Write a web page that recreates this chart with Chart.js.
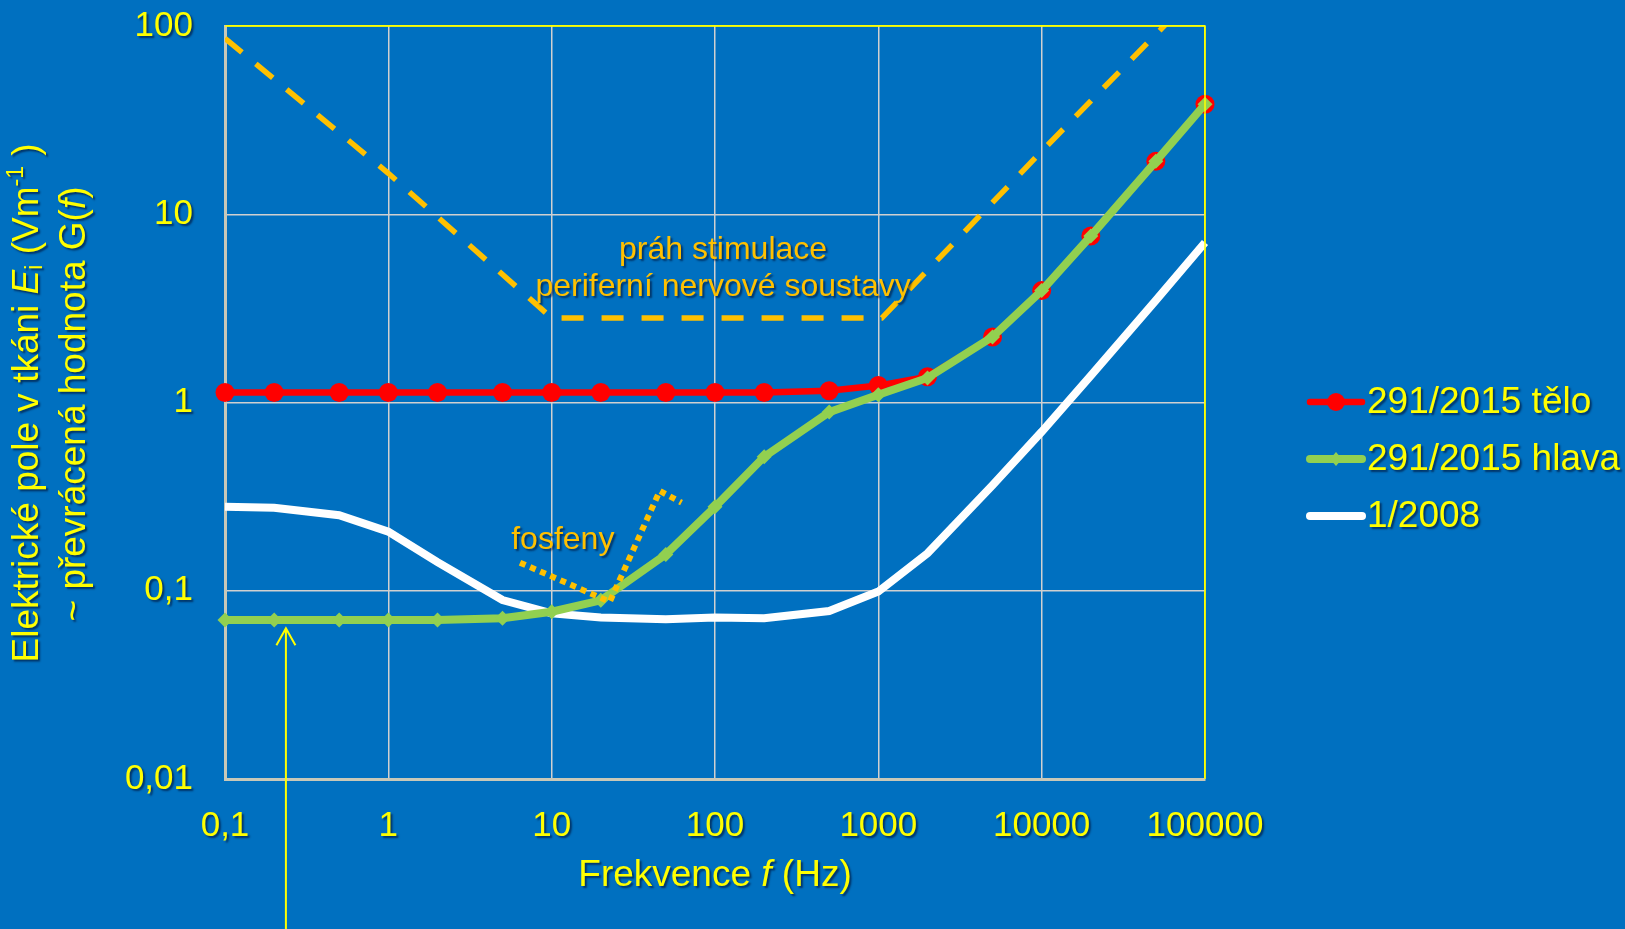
<!DOCTYPE html>
<html>
<head>
<meta charset="utf-8">
<script src="https://cdn.jsdelivr.net/npm/chart.js@4.4.1/dist/chart.umd.min.js"></script>
<style>
  html, body { margin: 0; padding: 0; background: #0070C0; }
  #wrap { width: 1625px; height: 929px; position: relative; }
</style>
</head>
<body>
<div id="wrap"><canvas id="chart"></canvas></div>
<script>
// frequencies (Hz) shared by the three limit curves
const freqs = [0.1, 0.2, 0.5, 1, 2, 5, 10, 20, 50, 100, 200, 500, 1000, 2000, 5000, 10000, 20000, 50000, 100000]
const teloValues = [1.13, 1.13, 1.13, 1.13, 1.13, 1.13, 1.13, 1.13, 1.13, 1.13, 1.13, 1.155, 1.23, 1.37, 2.23, 3.93, 7.66, 19.1, 38.4]
const hlavaValues = [0.07, 0.07, 0.07, 0.07, 0.07, 0.0714, 0.0774, 0.089, 0.156, 0.279, 0.515, 0.889, 1.1, 1.35, 2.23, 3.93, 7.66, 19.1, 38.4]
const old2008Values = [0.279, 0.276, 0.252, 0.206, 0.142, 0.0893, 0.0758, 0.0722, 0.0705, 0.0721, 0.0714, 0.078, 0.099, 0.158, 0.363, 0.699, 1.39, 3.49, 7.08]

// prah stimulace periferni nervove soustavy (dashed)
const stimFreqs = [0.1, 1, 10, 1050, 10000, 100000]
const stimValues = [86, 16.5, 2.81, 2.81, 21.6, 167]

// fosfeny (dotted)
const fosFreqs = [6.4, 22.7, 45.9, 62.4]
const fosValues = [0.141, 0.0874, 0.339, 0.294]

const seriesNames = ['291/2015 tělo', '291/2015 hlava', '1/2008']

const xTicks = [0.1, 1, 10, 100, 1000, 10000, 100000]
const xTickLabels = ['0,1', '1', '10', '100', '1000', '10000', '100000']
const yTicks = [0.01, 0.1, 1, 10, 100]
const yTickLabels = ['0,01', '0,1', '1', '10', '100']

const FONT = "'Liberation Sans', Arial, sans-serif"
const YELLOW = '#FFFF00'
const ORANGE = '#FFC000'
const RED = '#FF0000'
const GREEN = '#92D050'

const pts = (xs, ys) => xs.map((x, i) => ({ x: x, y: ys[i] }))

function shadow(ctx) {
  ctx.shadowColor = 'rgba(0, 0, 30, 0.55)'
  ctx.shadowOffsetX = 2
  ctx.shadowOffsetY = 2
  ctx.shadowBlur = 2
}

// draws a line of mixed normal / italic / sub / sup text centred on (x, y)
function richText(ctx, segs, x, y, size, color) {
  const fontOf = s => (s.italic ? 'italic ' : '') + Math.round(size * (s.small ? 0.62 : 1)) + 'px ' + FONT
  let total = 0
  segs.forEach(s => { ctx.font = fontOf(s); s.w = ctx.measureText(s.t).width; total += s.w })
  let cx = x - total / 2
  ctx.fillStyle = color
  ctx.textAlign = 'left'
  ctx.textBaseline = 'middle'
  segs.forEach(s => {
    ctx.font = fontOf(s)
    ctx.fillText(s.t, cx, y + (s.dy || 0) * size)
    cx += s.w
  })
}

const decor = {
  id: 'decor',
  beforeDraw(chart) {
    Object.values(chart.scales).forEach(s => {
      if (s._shadowed) return
      const orig = s.drawLabels.bind(s)
      s.drawLabels = function (area) {
        const c = this.ctx
        c.save(); shadow(c); orig(area); c.restore()
      }
      s._shadowed = true
    })
  },
  afterDraw(chart) {
    const ctx = chart.ctx
    const xs = chart.scales.x, ys = chart.scales.y
    const area = chart.chartArea

    // yellow frame on top and right
    ctx.save()
    ctx.strokeStyle = YELLOW
    ctx.lineWidth = 1.5
    ctx.beginPath()
    ctx.moveTo(area.left, area.top)
    ctx.lineTo(area.right, area.top)
    ctx.lineTo(area.right, area.bottom)
    ctx.stroke()
    ctx.restore()

    ctx.save()
    shadow(ctx)

    // axis titles
    richText(ctx, [{ t: 'Frekvence ' }, { t: 'f', italic: true }, { t: ' (Hz)' }], 715, 876, 37, YELLOW)

    ctx.save()
    ctx.translate(28, 403)
    ctx.rotate(-Math.PI / 2)
    richText(ctx, [
      { t: 'Elektrické pole v tkáni ' }, { t: 'E', italic: true }, { t: 'i', small: true, dy: 0.22 },
      { t: ' (Vm' }, { t: '-1', small: true, dy: -0.32 }, { t: ' )' }
    ], 0, 0, 37, YELLOW)
    ctx.restore()

    ctx.save()
    ctx.translate(75, 404)
    ctx.rotate(-Math.PI / 2)
    richText(ctx, [{ t: '~ převrácená hodnota G(' }, { t: 'f', italic: true }, { t: ')' }], 0, 0, 37, YELLOW)
    ctx.restore()

    // curve annotations
    richText(ctx, [{ t: 'práh stimulace' }], xs.getPixelForValue(112), ys.getPixelForValue(6.48), 32, ORANGE)
    richText(ctx, [{ t: 'periferní nervové soustavy' }], xs.getPixelForValue(112), ys.getPixelForValue(4.1), 32, ORANGE)
    richText(ctx, [{ t: 'fosfeny' }], xs.getPixelForValue(11.7), ys.getPixelForValue(0.186), 32, ORANGE)

    // legend
    const lx = 1307, ly = 402, gap = 57, lw = 58
    chart.data.datasets.slice(0, 3).forEach((ds, i) => {
      const y = ly + i * gap
      ctx.save()
      ctx.shadowColor = 'transparent'
      ctx.strokeStyle = ds.borderColor
      ctx.lineWidth = ds.borderWidth
      ctx.lineCap = 'round'
      ctx.beginPath()
      ctx.moveTo(lx + 3, y)
      ctx.lineTo(lx + lw - 3, y)
      ctx.stroke()
      ctx.fillStyle = ds.borderColor
      const mx = lx + lw / 2
      if (ds.pointStyle === 'circle') {
        ctx.beginPath(); ctx.arc(mx, y, 9, 0, Math.PI * 2); ctx.fill()
      } else if (ds.pointStyle === 'rectRot') {
        ctx.beginPath(); ctx.moveTo(mx, y - 7); ctx.lineTo(mx + 6, y); ctx.lineTo(mx, y + 7); ctx.lineTo(mx - 6, y); ctx.closePath(); ctx.fill()
      }
      ctx.restore()
      ctx.font = '37px ' + FONT
      ctx.fillStyle = YELLOW
      ctx.textAlign = 'left'
      ctx.textBaseline = 'middle'
      ctx.fillText(ds.label, lx + lw + 2, y + 1)
    })
    ctx.restore()

    // arrow pointing at the 291/2015 hlava curve
    const ax = xs.getPixelForValue(0.236), ay = ys.getPixelForValue(0.0632)
    ctx.save()
    ctx.strokeStyle = YELLOW
    ctx.lineWidth = 2
    ctx.beginPath()
    ctx.moveTo(ax, chart.height)
    ctx.lineTo(ax, ay)
    ctx.moveTo(ax - 9.5, ay + 17)
    ctx.lineTo(ax, ay)
    ctx.lineTo(ax + 9.5, ay + 17)
    ctx.stroke()
    ctx.restore()
  }
}

const gridColor = (top) => ctx => (ctx.tick && ctx.tick.value === top ? YELLOW : '#D0D0D0')

new Chart(document.getElementById('chart'), {
  type: 'line',
  data: {
    datasets: [
      {
        label: seriesNames[0], data: pts(freqs, teloValues),
        borderColor: RED, backgroundColor: RED, borderWidth: 6.5,
        pointStyle: 'circle', pointRadius: 9.5, pointBorderWidth: 0, pointBackgroundColor: RED,
        clip: false, order: 5
      },
      {
        label: seriesNames[1], data: pts(freqs, hlavaValues),
        borderColor: GREEN, backgroundColor: GREEN, borderWidth: 8,
        pointStyle: 'rectRot', pointRadius: 7.5, pointBorderWidth: 0, pointBackgroundColor: GREEN,
        clip: false, order: 3
      },
      {
        label: seriesNames[2], data: pts(freqs, old2008Values),
        borderColor: '#FFFFFF', backgroundColor: '#FFFFFF', borderWidth: 8,
        pointRadius: 0, clip: false, order: 4
      },
      {
        label: 'fosfeny', data: pts(fosFreqs, fosValues),
        borderColor: ORANGE, borderWidth: 6, borderDash: [6, 5],
        pointRadius: 0, order: 2
      },
      {
        label: 'práh stimulace', data: pts(stimFreqs, stimValues),
        borderColor: ORANGE, borderWidth: 5.5, borderDash: [22, 18],
        pointRadius: 0, order: 1
      }
    ]
  },
  options: {
    responsive: true,
    maintainAspectRatio: false,
    animation: false,
    events: [],
    layout: { padding: { top: 0, right: 420, left: 0, bottom: 0 } },
    plugins: { legend: { display: false }, tooltip: { enabled: false } },
    scales: {
      x: {
        type: 'logarithmic', min: 0.1, max: 100000,
        afterBuildTicks: s => { s.ticks = xTicks.map(v => ({ value: v })) },
        afterFit: s => { s.height = 150 },
        grid: { color: gridColor(100000), lineWidth: 1.5, drawTicks: false },
        border: { color: '#C8C8B8', width: 3 },
        ticks: {
          color: YELLOW, font: { family: FONT, size: 35 }, padding: 26,
          maxRotation: 0, autoSkip: false,
          callback: (v, i) => xTickLabels[i]
        }
      },
      y: {
        type: 'logarithmic', min: 0.01, max: 100,
        afterBuildTicks: s => { s.ticks = yTicks.map(v => ({ value: v })) },
        afterFit: s => { s.width = 225; s.paddingTop = 26; s.paddingBottom = 0 },
        grid: { color: gridColor(100), lineWidth: 1.5, drawTicks: false },
        border: { color: '#C8C8B8', width: 3 },
        ticks: {
          color: YELLOW, font: { family: FONT, size: 35 }, padding: 32,
          callback: (v, i) => yTickLabels[i]
        }
      }
    }
  },
  plugins: [decor]
})
</script>
</body>
</html>
